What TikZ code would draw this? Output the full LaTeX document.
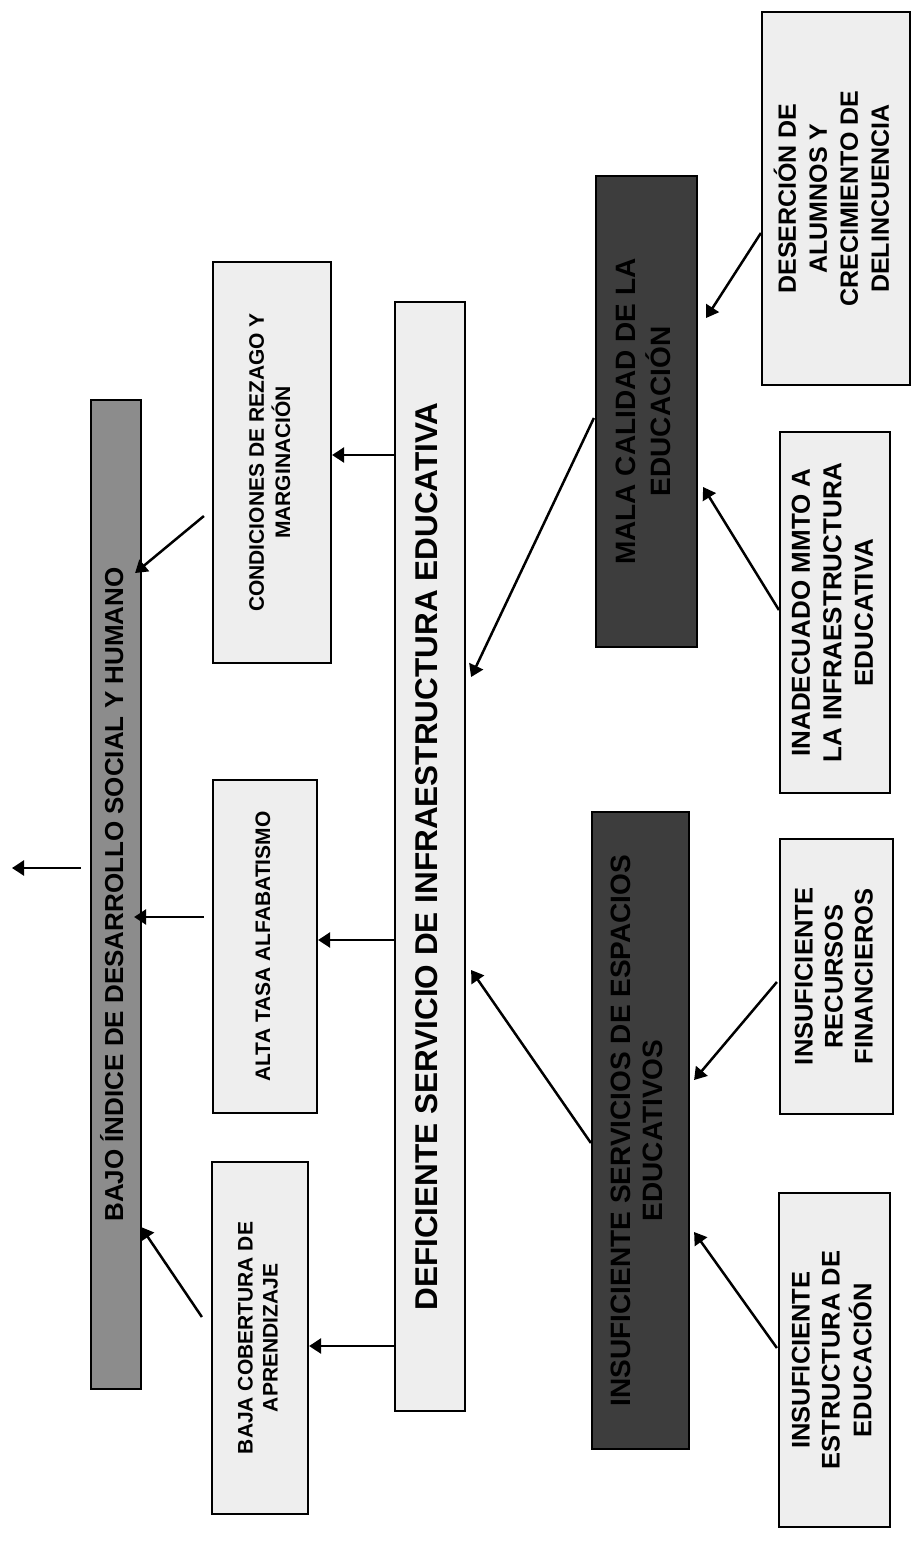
\documentclass[tikz,border=0pt]{standalone}
\usepackage{fontspec}
\setmainfont{Liberation Sans}
\usepackage{graphicx}
\usepackage{xcolor}
\usetikzlibrary{arrows.meta}

\definecolor{lightgris}{HTML}{EEEEEE}
\definecolor{midgris}{HTML}{8C8C8C}
\definecolor{darkgris}{HTML}{3D3D3D}

% size, line skip, text
\newcommand{\vtext}[3]{\rotatebox{90}{\fontsize{#1}{#2}\selectfont\bfseries\begin{tabular}{@{}c@{}}#3\end{tabular}}}

\tikzset{
  box/.style={draw=black, line width=2.2pt, rectangle, inner sep=0pt, text=black},
  lightbox/.style={box, fill=lightgris},
  midbox/.style={box, fill=midgris},
  darkbox/.style={box, fill=darkgris},
  arr/.style={line width=2.5pt, -{Triangle[length=12pt,width=15pt]}}
}

\begin{document}
\begin{tikzpicture}[x=1pt,y=-1pt]
            \useasboundingbox (0,0) rectangle (915,1547);
            \node[midbox, minimum width=50, minimum height=989] (bajo) at (116,894.5) {\vtext{26}{30}{BAJO ÍNDICE DE DESARROLLO SOCIAL Y HUMANO}};
            \node[lightbox, minimum width=118, minimum height=401] (condiciones) at (272,462.5) {\vtext{21}{25}{CONDICIONES DE REZAGO Y\\MARGINACIÓN}};
            \node[lightbox, minimum width=104, minimum height=333] (alta) at (265,946.5) {\vtext{21}{25}{ALTA TASA ALFABATISMO}};
            \node[lightbox, minimum width=96, minimum height=352] (baja) at (260,1338) {\vtext{21}{25}{BAJA COBERTURA DE\\APRENDIZAJE}};
            \node[lightbox, minimum width=70, minimum height=1109] (deficiente) at (430,856.5) {\vtext{31.5}{36}{DEFICIENTE SERVICIO DE INFRAESTRUCTURA EDUCATIVA}};
            \node[darkbox, minimum width=101, minimum height=471] (mala) at (646.5,411.5) {\vtext{28}{32}{MALA CALIDAD DE LA\\EDUCACIÓN}};
            \node[darkbox, minimum width=97, minimum height=637] (espacios) at (640.5,1130.5) {\vtext{28}{32}{INSUFICIENTE SERVICIOS DE ESPACIOS\\EDUCATIVOS}};
            \node[lightbox, minimum width=148, minimum height=373] (desercion) at (836,198.5) {\vtext{25}{31}{DESERCIÓN DE\\ALUMNOS Y\\CRECIMIENTO DE\\DELINCUENCIA}};
            \node[lightbox, minimum width=110, minimum height=361] (inadecuado) at (835,612.5) {\vtext{26}{31.5}{INADECUADO MMTO A\\LA INFRAESTRUCTURA\\EDUCATIVA}};
            \node[lightbox, minimum width=113, minimum height=275] (recursos) at (836.5,976.5) {\vtext{25.5}{30}{INSUFICIENTE\\RECURSOS\\FINANCIEROS}};
            \node[lightbox, minimum width=111, minimum height=334] (estructura) at (834.5,1360) {\vtext{25.5}{30}{INSUFICIENTE\\ESTRUCTURA DE\\EDUCACIÓN}};
            \coordinate (salida) at (12,868);
            % efectos
            \draw[arr] ([shift={(-9,-26.5)}]bajo.west) -- (salida);
            \draw[arr] ([shift={(-8,53.5)}]condiciones.west) -- ([shift={(-7,-321.5)}]bajo.east);
            \draw[arr] ([shift={(-8,-29.5)}]alta.west) -- ([shift={(-8,22.5)}]bajo.east);
            \draw[arr] ([shift={(-9,-21)}]baja.west) -- ([shift={(-1,332.5)}]bajo.east);
            \draw[arr] ([shift={(0,-401.5)}]deficiente.west) -- ([shift={(0,-7.5)}]condiciones.east);
            \draw[arr] ([shift={(0,83.5)}]deficiente.west) -- ([shift={(0,-6.5)}]alta.east);
            \draw[arr] ([shift={(0,489.5)}]deficiente.west) -- ([shift={(0,8)}]baja.east);
            % causas
            \draw[arr] ([shift={(-1,6.5)}]mala.west) -- ([shift={(5,-179.5)}]deficiente.east);
            \draw[arr] ([shift={(0,12.5)}]espacios.west) -- ([shift={(5,113.5)}]deficiente.east);
            \draw[arr] ([shift={(0,34.5)}]desercion.west) -- ([shift={(8,-93.5)}]mala.east);
            \draw[arr] ([shift={(0,-2.5)}]inadecuado.west) -- ([shift={(5,75.5)}]mala.east);
            \draw[arr] ([shift={(-2,5.5)}]recursos.west) -- ([shift={(4,-50.5)}]espacios.east);
            \draw[arr] ([shift={(-1,-12)}]estructura.west) -- ([shift={(4,101.5)}]espacios.east);
        \end{tikzpicture}
\end{document}
